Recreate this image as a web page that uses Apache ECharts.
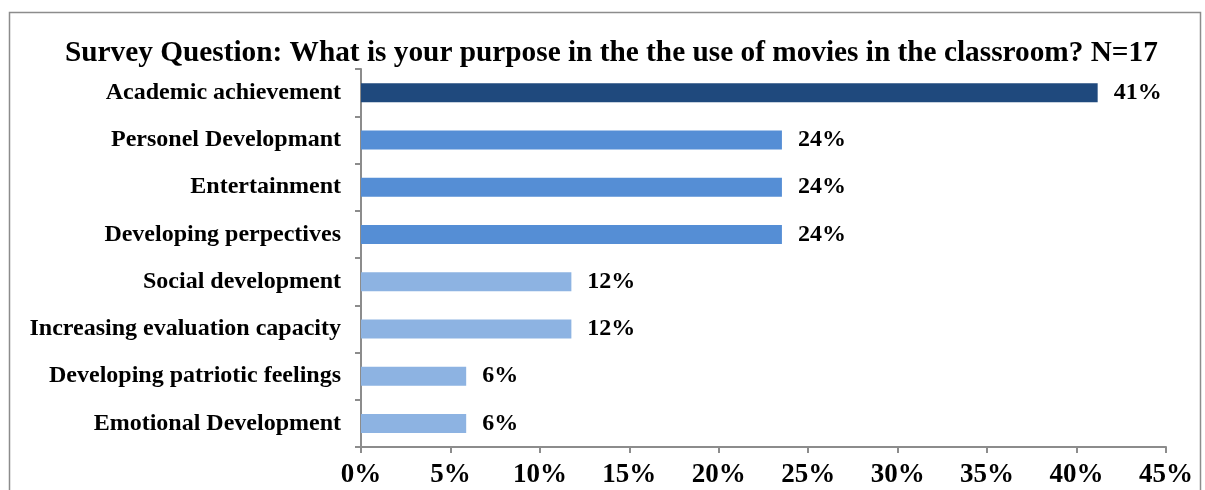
<!DOCTYPE html>
<html><head><meta charset="utf-8">
<script src="https://cdn.jsdelivr.net/npm/echarts@6/dist/echarts.min.js"></script>
<style>html,body{margin:0;padding:0;background:#fff}#c{width:1205px;height:490px}</style>
</head><body><div id="c"></div>
<script>
const categories = ["Academic achievement","Personel Developmant","Entertainment","Developing perpectives","Social development","Increasing evaluation capacity","Developing patriotic feelings","Emotional Development"];
const values = [41.18, 23.53, 23.53, 23.53, 11.76, 11.76, 5.88, 5.88];
const labels = ["41%","24%","24%","24%","12%","12%","6%","6%"];
const colors = ["#1F497D","#558ED5","#558ED5","#558ED5","#8DB3E2","#8DB3E2","#8DB3E2","#8DB3E2"];
const titleText = "Survey Question: What is your purpose in the the use of movies in the classroom? N=17";
const font = "'Liberation Serif','Times New Roman',serif";
const chart = echarts.init(document.getElementById('c'));
chart.setOption({
  animation:false,
  graphic:[{type:'rect',shape:{x:9.5,y:12.5,width:1191,height:490},style:{fill:'none',stroke:'#8c8c8c',lineWidth:1.5},silent:true}],
  title:{text:titleText,left:60,top:34,textStyle:{fontFamily:font,fontWeight:'bold',fontSize:29.3,color:'#000'}},
  grid:{left:361,right:39,top:69,bottom:43,containLabel:false},
  xAxis:{type:'value',min:0,max:45,interval:5,
    axisLine:{show:true,lineStyle:{color:'#8c8c8c',width:2}},
    axisTick:{show:true,length:6,lineStyle:{color:'#8c8c8c',width:2}},
    splitLine:{show:false},
    axisLabel:{formatter:v=>v+'%',fontFamily:font,fontWeight:'bold',fontSize:27,color:'#000',margin:15}},
  yAxis:{type:'category',inverse:true,data:categories,
    axisLine:{show:true,lineStyle:{color:'#8c8c8c',width:2}},
    axisTick:{show:true,length:6,lineStyle:{color:'#8c8c8c',width:2}},
    axisLabel:{fontFamily:font,fontWeight:'bold',fontSize:24,color:'#000',margin:20}},
  series:[{type:'bar',barWidth:19,
    data:values.map((v,i)=>({value:v,itemStyle:{color:colors[i]},label:{formatter:labels[i]}})),
    label:{show:true,position:'right',distance:16,fontFamily:font,fontWeight:'bold',fontSize:24,color:'#000'}}]
});
</script></body></html>
